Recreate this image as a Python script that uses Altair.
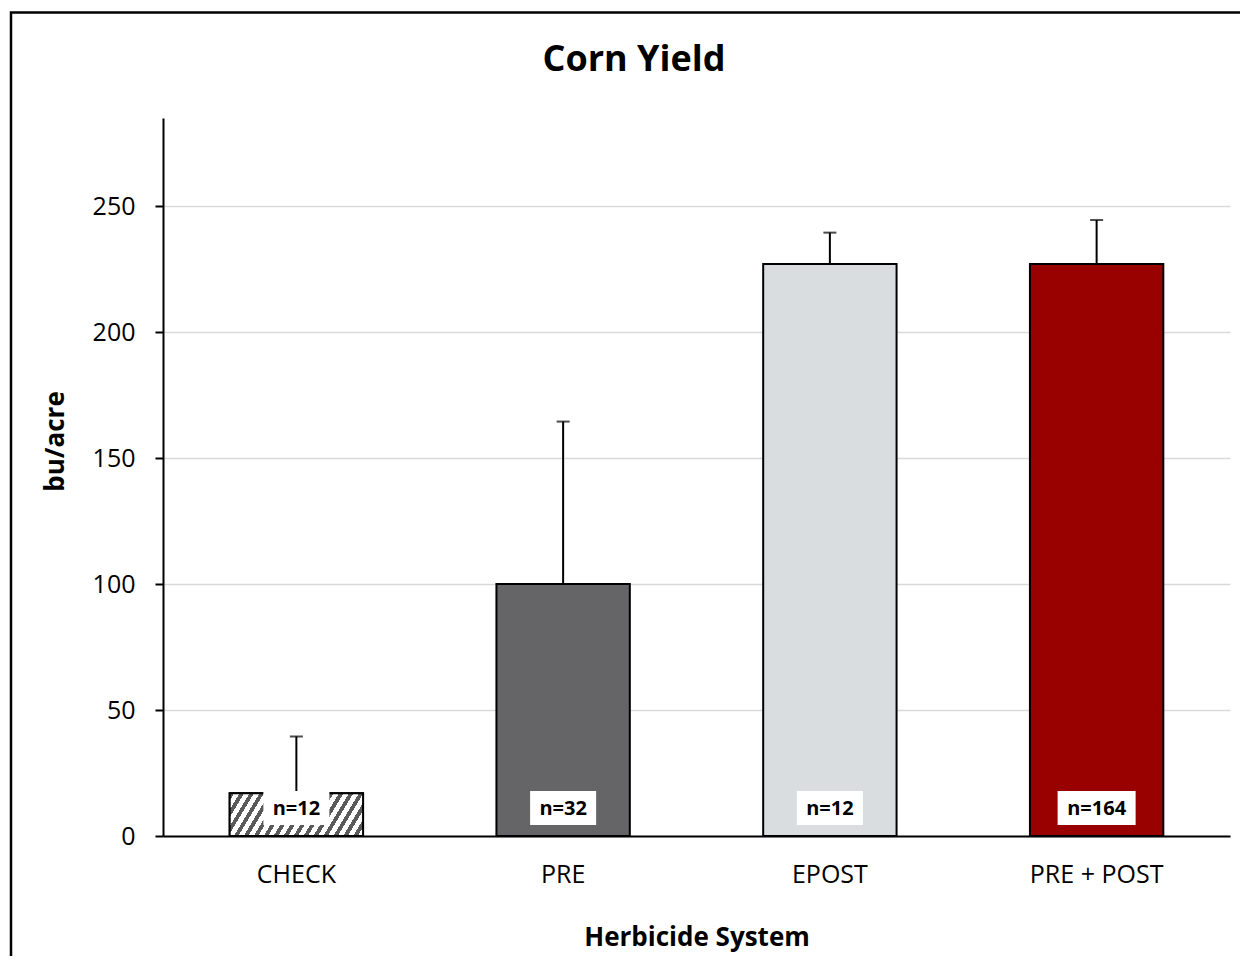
import altair as alt
import pandas as pd

categories = ["CHECK", "PRE", "EPOST", "PRE + POST"]
means = [17, 100, 227, 227]
upper = [39.5, 164.5, 239.5, 244.5]
counts = [12, 32, 12, 164]
colors = ["#ffffff", "#656568", "#d9dde0", "#990000"]
title_text = "Corn Yield"

df = pd.DataFrame({"system": categories, "mean": means, "upper": upper, "n": counts})
df["label"] = ["n=" + str(v) for v in counts]

FONT = "Open Sans"

# diagonal hatch approximation for the CHECK bar (linear gradient with hard stops)
nstripes = 16
stops = []
for i in range(nstripes):
    s = i / nstripes
    d = 0.45 / nstripes
    e = (i + 1) / nstripes
    stops += [
        {"offset": s, "color": "#5a5a5a"},
        {"offset": s + d, "color": "#5a5a5a"},
        {"offset": s + d, "color": "#ffffff"},
        {"offset": e, "color": "#ffffff"},
    ]
hatch = {"gradient": "linear", "x1": 0, "y1": 0, "x2": 1.15, "y2": 0.2215, "stops": stops}

xenc = alt.X(
    "system:N",
    sort=categories,
    scale=alt.Scale(paddingInner=0.5, paddingOuter=0.25),
    axis=alt.Axis(
        title="Herbicide System",
        labelAngle=0,
        ticks=False,
        tickSize=0,
        domainColor="black",
        domainWidth=2,
        labelFontSize=25,
        labelColor="black",
        labelFont=FONT,
        labelPadding=26,
        titleFontSize=26,
        titleFont=FONT,
        titleFontWeight="bold",
        titleColor="black",
        titleY=101,
        titleBaseline="middle",
        grid=False,
    ),
)

yscale = alt.Scale(domain=[0, 285], nice=False)

base = alt.Chart(df)

bars = base.mark_bar(stroke="black", strokeWidth=2).encode(
    x=xenc,
    y=alt.Y(
        "mean:Q",
        scale=yscale,
        axis=alt.Axis(
            title="bu/acre",
            values=[0, 50, 100, 150, 200, 250],
            gridColor="#d9d9d9",
            gridWidth=1.5,
            domainColor="black",
            domainWidth=2,
            tickColor="black",
            tickWidth=2,
            tickSize=8,
            labelFontSize=25,
            labelFont=FONT,
            labelColor="black",
            labelPadding=20,
            titleFontSize=26,
            titleFont=FONT,
            titleFontWeight="bold",
            titleColor="black",
            titleAngle=-90,
            titleX=-108,
            titleY=323,
            titleAlign="center",
            titleBaseline="middle",
        ),
    ),
    color=alt.Color("system:N", scale=alt.Scale(domain=categories, range=colors), legend=None),
)

hatched = base.transform_filter(alt.datum.system == "CHECK").mark_bar(
    fill=hatch, stroke="black", strokeWidth=2
).encode(x=alt.X("system:N", sort=categories), y=alt.Y("mean:Q", scale=yscale))

err = base.mark_rule(color="black", strokeWidth=2).encode(
    x=alt.X("system:N", sort=categories), y=alt.Y("mean:Q", scale=yscale), y2="upper:Q"
)

caps = base.mark_tick(orient="horizontal", size=13, thickness=2, color="black").encode(
    x=alt.X("system:N", sort=categories), y=alt.Y("upper:Q", scale=yscale)
)

boxes = base.transform_calculate(boxw="12 * length(datum.label) + 18").mark_bar(color="white").encode(
    x=alt.X("system:N", sort=categories),
    y=alt.value(673),
    y2=alt.value(707),
    size=alt.Size("boxw:Q", scale=None, legend=None),
)

texts = base.mark_text(font=FONT, fontSize=20, fontWeight="bold", color="black", baseline="middle").encode(
    x=alt.X("system:N", sort=categories),
    y=alt.value(691),
    text="label:N",
)

frame = alt.Chart(pd.DataFrame({"k": [0]})).mark_rect(
    fillOpacity=0, stroke="black", strokeWidth=2.5, clip=False
).encode(
    x=alt.value(-152), x2=alt.value(1300), y=alt.value(-105.5), y2=alt.value(1000)
)

title = alt.Chart(pd.DataFrame({"t": [title_text]})).mark_text(
    font=FONT, fontSize=36, fontWeight="bold", color="black", baseline="middle", align="center"
).encode(x=alt.value(471), y=alt.value(-58), text="t:N")

chart = (
    alt.layer(bars, hatched, err, caps, boxes, texts, title, frame)
    .properties(
        width=1067,
        height=718,
        autosize=alt.AutoSizeParams(type="none"),
        padding={"left": 155, "top": 110, "right": 10, "bottom": 120},
        background="white",
    )
    .configure_view(stroke=None)
)

chart.save("out.html", embed_options={"renderer": "svg", "actions": False})
